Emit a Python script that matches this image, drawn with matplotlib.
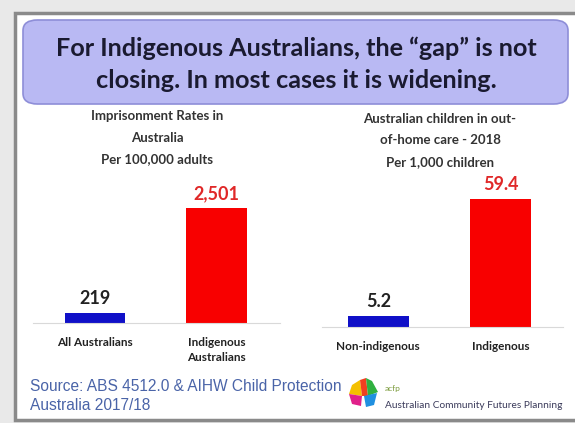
import matplotlib
matplotlib.use("Agg")
import matplotlib.pyplot as plt
from matplotlib.patches import FancyBboxPatch, Rectangle, Polygon

# Datos de los dos graficos
cat_prision = ["All Australians", "Indigenous\nAustralians"]
val_prision = [219, 2501]
etq_prision = ["219", "2,501"]

cat_cuidado = ["Non-indigenous", "Indigenous"]
val_cuidado = [5.2, 59.4]
etq_cuidado = ["5.2", "59.4"]

colores = ["#1010c8", "#f80000"]
color_etq = ["#222222", "#e02828"]

W, H = 575, 423
plt.rcParams['font.family'] = ['Lato', 'DejaVu Sans']

fig = plt.figure(figsize=(W / 100, H / 100), dpi=100)
fig.patch.set_facecolor("#e9e9e9")


def px(x, y):
    """pixeles de la imagen -> coordenadas de figura"""
    return x / W, 1 - y / H


# Marco de la diapositiva (debajo de los ejes)
x0, y0 = px(15, 420)
fig.patches.append(Rectangle((x0, y0), 1.0, (420 - 13) / H, transform=fig.transFigure,
                             facecolor="white", edgecolor="#8a8a8a", linewidth=2.5,
                             zorder=-10))

# Caja del titulo
bx, by = px(23, 104)
fig.patches.append(FancyBboxPatch((bx, by), (568 - 23) / W, (104 - 20) / H,
                                  boxstyle="round,pad=0,rounding_size=0.025",
                                  transform=fig.transFigure, facecolor="#b9b9f3",
                                  edgecolor="#8e8ed8", linewidth=1.2, zorder=-5))
fig.text(*px(296, 48), "For Indigenous Australians, the \u201cgap\u201d is not",
         ha="center", va="center", fontsize=18.2, fontweight="bold", color="#1a1a30")
fig.text(*px(296, 80), "closing. In most cases it is widening.",
         ha="center", va="center", fontsize=18.2, fontweight="bold", color="#1a1a30")


def dibujo_barras(rect, cats, vals, etqs, ymax, xlim, titulo, tx, ty):
    ax = fig.add_axes(rect)
    ax.set_facecolor("none")
    ax.bar(range(len(vals)), vals, width=0.5, color=colores)
    ax.set_ylim(0, ymax)
    ax.set_xlim(*xlim)
    for i, v in enumerate(vals):
        ax.annotate(etqs[i], (i, v), xytext=(0, 4), textcoords="offset points",
                    ha="center", va="bottom", fontsize=13, fontweight="bold",
                    color=color_etq[i])
    for s in ["top", "left", "right"]:
        ax.spines[s].set_visible(False)
    ax.spines["bottom"].set_color("#d9d9d9")
    ax.set_yticks([])
    ax.set_xticks(range(len(cats)))
    ax.set_xticklabels(cats, fontsize=8.5, fontweight="bold", color="#222222",
                       va="top", linespacing=1.5)
    ax.tick_params(axis="x", length=0, pad=10)
    for i, linea in enumerate(titulo):
        fig.text(*px(tx, ty + i * 21.5), linea, ha="center", va="center",
                 fontsize=9.5, fontweight="bold", color="#333333")
    return ax


# Grafico izquierdo: baseline y=323, barra roja llega a y=208
dibujo_barras([33 / W, 1 - 323 / H, 247 / W, 223 / H], cat_prision, val_prision,
              etq_prision, 4850, (-0.51, 1.52),
              ["Imprisonment Rates in", "Australia", "Per 100,000 adults"], 157, 116)

# Grafico derecho: baseline y=327, barra roja llega a y=199
dibujo_barras([322 / W, 1 - 327 / H, 241 / W, 227 / H], cat_cuidado, val_cuidado,
              etq_cuidado, 105.3, (-0.46, 1.51),
              ["Australian children in out-", "of-home care - 2018", "Per 1,000 children"],
              440, 119)

# Fuente
fig.text(*px(30, 386), "Source: ABS 4512.0 & AIHW Child Protection", ha="left",
         va="center", fontsize=11.2, color="#4a64a8", family="Liberation Sans")
fig.text(*px(30, 405), "Australia 2017/18", ha="left", va="center", fontsize=11.2,
         color="#4a64a8", family="Liberation Sans")

# Logo acfp (aproximado)
partes = [
    ([(349, 394), (352, 385), (360, 380), (362, 396)], "#f4c000"),
    ([(360, 380), (366, 378), (368, 396), (362, 396)], "#f04020"),
    ([(366, 378), (372, 381), (378, 392), (368, 396)], "#30b040"),
    ([(349, 394), (362, 396), (361, 406), (352, 404)], "#e0208a"),
    ([(364, 396), (377, 393), (374, 405), (366, 407)], "#2090e0"),
]
for pts, c in partes:
    fig.patches.append(Polygon([px(a, b) for a, b in pts], closed=True,
                               transform=fig.transFigure, facecolor=c, edgecolor="none"))
fig.text(*px(385, 388), "acfp", ha="left", va="center", fontsize=6, color="#7a9a3a")
fig.text(*px(385, 405), "Australian Community Futures Planning", ha="left", va="center",
         fontsize=7.3, color="#3a3a5a")

fig.savefig("out.png", dpi=100, facecolor=fig.get_facecolor())
